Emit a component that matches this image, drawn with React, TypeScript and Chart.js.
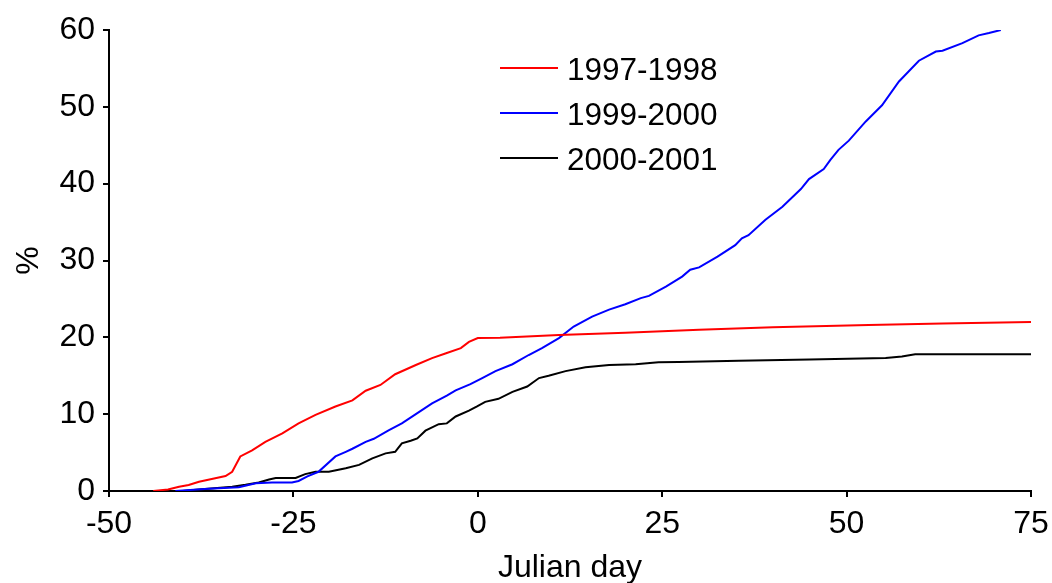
import React, { useEffect, useRef } from "react";
import { Chart, registerables } from "chart.js";

Chart.register(...registerables);

const SERIES_LABELS = ["1997-1998", "1999-2000", "2000-2001"];
const SERIES_COLORS = ["#ff0000", "#0000ff", "#000000"];

const DAYS_9798 = [-44, -42, -40.5, -39.2, -37.8, -35.6, -34.2, -33.3, -32.2, -30.6, -28.8, -26.5, -24.3, -22, -19.3, -17, -15.2, -13.2, -11.2, -8.4, -6.2, -4.4, -2.3, -1.2, 0, 3, 11, 20, 30, 40, 53, 63, 75];
const VALS_9798 = [0, 0.2, 0.56, 0.78, 1.2, 1.65, 1.95, 2.5, 4.5, 5.3, 6.4, 7.5, 8.8, 9.9, 11.0, 11.8, 13.05, 13.8, 15.2, 16.4, 17.3, 17.9, 18.6, 19.4, 19.9, 19.95, 20.3, 20.6, 21.0, 21.3, 21.6, 21.8, 22.0];

const DAYS_9900 = [-41, -36.5, -32.4, -30.1, -27.9, -25.2, -24.3, -23.1, -21.6, -19.3, -17.9, -17, -15.2, -14.1, -12.1, -10.3, -8.4, -6.2, -4.2, -3, -1, 0.6, 2.4, 4.7, 6.9, 8.7, 11, 13, 15.5, 17.8, 20, 22.1, 23.2, 25.5, 27.7, 28.8, 30, 32.5, 34.9, 35.8, 36.7, 39, 41.3, 43.8, 44.9, 46.9, 47.8, 48.9, 50.3, 52.6, 54.8, 57.1, 59.8, 62.1, 63, 65.7, 67.9, 69.3, 70.9];
const VALS_9900 = [0, 0.3, 0.5, 1.0, 1.1, 1.1, 1.3, 1.9, 2.5, 4.5, 5.1, 5.5, 6.4, 6.8, 7.9, 8.8, 10.0, 11.4, 12.4, 13.1, 13.9, 14.7, 15.6, 16.5, 17.7, 18.6, 19.9, 21.4, 22.7, 23.6, 24.3, 25.1, 25.4, 26.6, 27.9, 28.8, 29.1, 30.5, 32.0, 32.9, 33.3, 35.3, 37.0, 39.3, 40.6, 41.9, 43.1, 44.4, 45.6, 48.1, 50.2, 53.3, 56.0, 57.2, 57.3, 58.3, 59.3, 59.6, 60.0];

const DAYS_0001 = [-40, -37.8, -33.3, -31.5, -29.7, -28.3, -27.4, -24.7, -23.4, -22, -20.2, -17.9, -16.1, -14.3, -12.5, -11.2, -10.3, -9.1, -8.2, -7.1, -5.3, -4.2, -3, -1.2, -0.1, 1, 2.8, 4.7, 6.7, 8.3, 9.6, 11.9, 14.6, 17.8, 21.4, 24.5, 27.2, 35.4, 45, 55.3, 57.5, 59.3, 75];
const VALS_0001 = [0, 0.2, 0.56, 0.8, 1.1, 1.5, 1.7, 1.7, 2.2, 2.5, 2.5, 2.95, 3.4, 4.25, 4.9, 5.1, 6.2, 6.55, 6.85, 7.85, 8.7, 8.8, 9.7, 10.45, 11.0, 11.6, 12.0, 12.9, 13.6, 14.7, 15.0, 15.6, 16.1, 16.4, 16.5, 16.75, 16.8, 16.96, 17.1, 17.3, 17.5, 17.8, 17.8];

const X_MIN = -50;
const X_MAX = 75;
const X_STEP = 25;
const Y_MIN = 0;
const Y_MAX = 60;
const Y_STEP = 10;
const X_TITLE = "Julian day";
const Y_TITLE = "%";

const FONT_FAMILY = '"Liberation Sans", Arial, sans-serif';

function toPoints(days: number[], vals: number[]) {
  return days.map((d, i) => ({ x: d, y: vals[i] }));
}

const insideLegend = {
  id: "insideLegend",
  afterDraw(chart: any) {
    const ctx = chart.ctx;
    ctx.save();
    ctx.font = `31.5px ${FONT_FAMILY}`;
    ctx.textAlign = "left";
    ctx.textBaseline = "alphabetic";
    chart.data.datasets.forEach((ds: any, i: number) => {
      const cy = 68 + i * 45;
      ctx.strokeStyle = ds.borderColor;
      ctx.lineWidth = 2;
      ctx.beginPath();
      ctx.moveTo(500, cy);
      ctx.lineTo(558, cy);
      ctx.stroke();
      ctx.fillStyle = "#000";
      ctx.fillText(ds.label, 567, cy + 11.5);
    });
    ctx.restore();
  },
};

export default function App() {
  const ref = useRef<HTMLCanvasElement | null>(null);

  useEffect(() => {
    document.body.style.margin = "0";
    const canvas = ref.current;
    if (!canvas) return;
    const series = [
      toPoints(DAYS_9798, VALS_9798),
      toPoints(DAYS_9900, VALS_9900),
      toPoints(DAYS_0001, VALS_0001),
    ];
    const tickFont = { family: FONT_FAMILY, size: 32 };
    const chart = new Chart(canvas, {
      type: "line",
      data: {
        datasets: series.map((pts, i) => ({
          label: SERIES_LABELS[i],
          data: pts,
          borderColor: SERIES_COLORS[i],
          backgroundColor: SERIES_COLORS[i],
          borderWidth: 2,
          pointRadius: 0,
          tension: 0,
          fill: false,
        })),
      },
      options: {
        animation: false,
        responsive: false,
        devicePixelRatio: 1,
        layout: { padding: { top: 30, right: 21, left: 0, bottom: 0 } },
        plugins: {
          legend: { display: false },
          tooltip: { enabled: false },
        },
        scales: {
          x: {
            type: "linear",
            min: X_MIN,
            max: X_MAX,
            ticks: { stepSize: X_STEP, font: tickFont, color: "#000", padding: 8, maxRotation: 0 },
            grid: { drawOnChartArea: false, drawTicks: true, tickLength: 6, color: "#000", lineWidth: 2 },
            border: { display: true, color: "#000", width: 2 },
            title: { display: true, text: X_TITLE, font: tickFont, color: "#000", padding: { top: 0, bottom: -4 } },
            afterFit: (s: any) => { s.height = 92; s.paddingLeft = 0; s.paddingRight = 0; },
          },
          y: {
            type: "linear",
            min: Y_MIN,
            max: Y_MAX,
            ticks: { stepSize: Y_STEP, font: tickFont, color: "#000", padding: 8 },
            grid: { drawOnChartArea: false, drawTicks: true, tickLength: 6, color: "#000", lineWidth: 2 },
            border: { display: true, color: "#000", width: 2 },
            title: { display: true, text: Y_TITLE, font: tickFont, color: "#000", padding: { top: 10, bottom: 10 } },
            afterFit: (s: any) => { s.width = 109; s.paddingTop = 0; s.paddingBottom = 0; },
          },
        },
      },
      plugins: [insideLegend],
    });
    return () => chart.destroy();
  }, []);

  return (
    <div style={{ width: 1052, height: 583, position: "relative", background: "#fff" }}>
      <canvas ref={ref} width={1052} height={583} />
    </div>
  );
}
